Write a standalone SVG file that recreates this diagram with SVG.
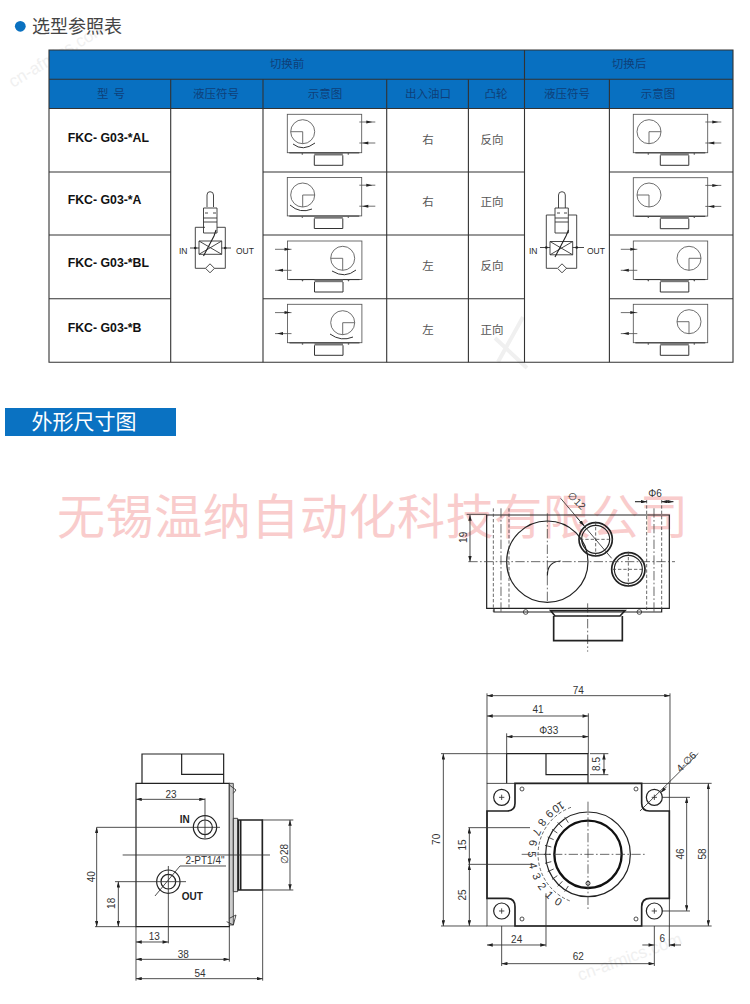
<svg xmlns="http://www.w3.org/2000/svg" xmlns:xlink="http://www.w3.org/1999/xlink" width="750" height="1004" viewBox="0 0 750 1004">
<style>
text{font-family:"Liberation Sans",Arial,sans-serif;fill:#2a2a2a}
.cjk{font-family:"Noto Sans CJK SC","Noto Sans",sans-serif}
.hd{font-size:11.5px;fill:#0f3f78;text-anchor:middle}
.cell{font-size:11.5px;fill:#555;text-anchor:middle}
.fk{font-size:12.3px;font-weight:bold;fill:#111}
.grid{stroke:#333;stroke-width:1.1;fill:none}
.t{fill:none;stroke:#555;stroke-width:.85}
.tb{fill:none;stroke:#333;stroke-width:1}
.v{fill:none;stroke:#333;stroke-width:.9}
.d{fill:none;stroke:#333;stroke-width:2.6}
.b{fill:none;stroke:#222;stroke-width:5}
.m{fill:none;stroke:#222;stroke-width:3.6}
.c{fill:none;stroke:#444;stroke-width:2.4;stroke-dasharray:28 7 5 7}
.h{fill:none;stroke:#444;stroke-width:2.4;stroke-dasharray:10 6}
.a{fill:none;stroke:#333;stroke-width:2.6;marker-start:url(#ar);marker-end:url(#ar)}
.n{font-size:30px;fill:#333;text-anchor:middle}
.dn{font-size:33px;fill:#333;text-anchor:middle}
.nb{font-size:30px;font-weight:bold;fill:#222;text-anchor:middle}
.wm{fill:#f0f0f0;font-size:17px}
</style>
<defs>
<marker id="ar" viewBox="0 0 10 6" refX="10" refY="3" markerWidth="7" markerHeight="4" orient="auto-start-reverse"><path d="M0 0L10 3L0 6z" fill="#222"/></marker>
<g id="base">
<rect class="t" x="0" y="0" width="74.4" height="38.4"/>
<path class="tb" d="M2 38.6H72"/>
<rect x="27" y="38.6" width="28.5" height="2.6" fill="#777"/>
<path class="tb" d="M27 41V51H55.5V41"/>
<circle cx="15" cy="39.6" r=".8" fill="#555"/><circle cx="61" cy="39.6" r=".8" fill="#555"/>
</g>
<g id="tr">
<use xlink:href="#base"/>
<path class="t" d="M72 7.7H88M72 28.7H88"/>
<path d="M79 6.2L85 7.7L79 9.2zM75 28.7L81 27.2V30.2z" fill="#222"/>
</g>
<g id="tl">
<use xlink:href="#base"/>
<path class="t" d="M-12.500 8.300H4M-12.500 29.300H4"/>
<path d="M-3 6.800L3 8.300L-3 9.800zM-10.500 29.300L-4.500 27.800V30.800z" fill="#222"/>
</g>
<g id="dl"><circle class="t" r="12"/><path class="t" d="M-12 0H0V12"/></g>
<g id="dr"><circle class="t" r="12"/><path class="t" d="M12 0H0V12"/></g>
</defs>

<g id="background-marks">
<text class="cjk" x="57" y="534" font-size="48" style="fill:#f9cccc" textLength="631" lengthAdjust="spacing">无锡温纳自动化科技有限公司</text>
<text class="wm" transform="translate(13 88) rotate(-31)">cn-afmics.com</text>
<text class="wm" transform="translate(580 981) rotate(-20)">cn-afmics.com</text>
<path d="M495 338L527 368M523 317L498 362" stroke="#f0f0f0" stroke-width="4" fill="none"/>
</g>

<g id="heading-1">
<circle cx="20.300" cy="26.300" r="5.400" fill="#0a71c0"/>
<text class="cjk" x="32" y="32.500" font-size="18" style="fill:#444">选型参照表</text>
</g>

<g id="table">
<rect x="49" y="50" width="684" height="58.500" fill="#0870c1"/>
<path class="grid" d="M49 50H733V362.300H49ZM49 79.300H733M49 108.500H733"/>
<path class="grid" d="M170.700 79.300V362.300M263 79.300V362.300M386.700 79.300V362.300M468.400 79.300V362.300M524.500 50V362.300M609.400 79.300V362.300"/>
<path class="grid" d="M49 172H170.700M263 172H524.500M609.400 172H733M49 235H170.700M263 235H524.500M609.400 235H733M49 298.800H170.700M263 298.800H524.500M609.400 298.800H733"/>
<text class="hd cjk" x="287" y="68">切换前</text><text class="hd cjk" x="629" y="68">切换后</text>
<text class="hd cjk" x="111" y="98" xml:space="preserve">型  号</text><text class="hd cjk" x="216" y="98">液压符号</text><text class="hd cjk" x="325" y="98">示意图</text><text class="hd cjk" x="428" y="98">出入油口</text><text class="hd cjk" x="496" y="98">凸轮</text><text class="hd cjk" x="567" y="98">液压符号</text><text class="hd cjk" x="658" y="98">示意图</text>
<text class="cell cjk" x="428" y="144">右</text><text class="cell cjk" x="492" y="144">反向</text>
<text class="cell cjk" x="428" y="206">右</text><text class="cell cjk" x="492" y="206">正向</text>
<text class="cell cjk" x="428" y="270">左</text><text class="cell cjk" x="492" y="270">反向</text>
<text class="cell cjk" x="428" y="334">左</text><text class="cell cjk" x="492" y="334">正向</text>
<text class="fk" x="67.700" y="141.500">FKC- G03-*AL</text>
<text class="fk" x="67.700" y="203.500">FKC- G03-*A</text>
<text class="fk" x="67.700" y="267.300">FKC- G03-*BL</text>
<text class="fk" x="67.700" y="331.500">FKC- G03-*B</text>
</g>

<g id="thumbs-before">
<g id="th-al"><use xlink:href="#tr" x="287.300" y="114.300"/><use xlink:href="#dl" x="302.700" y="131.700"/><path class="tb" d="M293 144Q303 152 315 143"/></g>
<g id="th-a"><use xlink:href="#tr" x="287.300" y="177.500"/><use xlink:href="#dr" x="302.700" y="195"/><path class="tb" d="M290 205Q300 214 312 209"/></g>
<g id="th-bl"><use xlink:href="#tl" x="287.500" y="241"/><use xlink:href="#dl" x="342.700" y="258.300"/><path class="tb" d="M332 271Q345 279 356 270"/></g>
<g id="th-b"><use xlink:href="#tl" x="287.500" y="304.300"/><use xlink:href="#dr" x="342.700" y="322.700"/><path class="tb" d="M330 334Q341 342 353 337"/></g>
</g>
<g id="thumbs-after">
<g id="th2-al"><use xlink:href="#tr" x="633.300" y="114.300"/><use xlink:href="#dr" x="649" y="131.700"/></g>
<g id="th2-a"><use xlink:href="#tr" x="633.300" y="177.700"/><use xlink:href="#dl" x="649" y="195"/></g>
<g id="th2-bl"><use xlink:href="#tl" x="633.300" y="241"/><use xlink:href="#dr" x="689" y="258.300"/></g>
<g id="th2-b"><use xlink:href="#tl" x="633.300" y="304.300"/><use xlink:href="#dl" x="689" y="321.700"/></g>
</g>

<g id="symbol-before">
<path class="v" d="M207 207V195Q207 191.700 210 191.700Q213.500 191.700 213.500 195V207"/>
<path class="v" d="M203.500 208H217V233H203.500ZM203.500 218H217M203.500 222H217M205 213H208M213 213H216"/>
<path class="v" d="M205 227.300H195.300V268.300H205.500M214.500 268.300H225.300V227.300H217"/>
<path class="v" d="M199 241H221.700V254.300H199ZM199 241L221.700 254.300M199 254.300L221.700 241"/>
<path d="M203.500 256L214 236L216 230" fill="none" stroke="#222" stroke-width="1.100"/>
<path class="v" d="M190 248H199M221.700 248H231"/><circle cx="195.300" cy="248" r="1.300" fill="#222"/><circle cx="225.300" cy="248" r="1.300" fill="#222"/>
<path d="M210 263.800L214.500 268.300L210 272.800L205.500 268.300Z" fill="#fff" stroke="#333" stroke-width=".9"/>
<text x="179" y="254" font-size="8.500">IN</text><text x="236" y="254" font-size="8.500">OUT</text>
</g>
<g id="symbol-after">
<path class="v" d="M558.500 208V195Q558.500 191.700 562 191.700Q565.300 191.700 565.300 195V208"/>
<path class="v" d="M555 208H568.300V233H555ZM555 218H568.300M555 222H568.300M557 213H560M564 213H567"/>
<path class="v" d="M555 215H546.300V268.300H557M566 268.300H576.700V215H568.300"/>
<path class="v" d="M550 241.500H572.700V254.800H550ZM550 241.500L572.700 254.800M550 254.800L572.700 241.500"/>
<path d="M555 257L566 236L568.500 230" fill="none" stroke="#222" stroke-width="1.100"/>
<path class="v" d="M540 247.500H550M572.700 247.500H584"/><circle cx="546.300" cy="247.500" r="1.300" fill="#222"/><circle cx="576.700" cy="247.500" r="1.300" fill="#222"/>
<path d="M562 263.800L566.500 268.300L562 272.800L557.500 268.300Z" fill="#fff" stroke="#333" stroke-width=".9"/>
<text x="529" y="254" font-size="8.500">IN</text><text x="587" y="254" font-size="8.500">OUT</text>
</g>

<g id="heading-2">
<rect x="5" y="408" width="171" height="28" fill="#0a72c2"/>
<text class="cjk" x="31.500" y="429" font-size="21" style="fill:#fff">外形尺寸图</text>
</g>

<g id="view-top" transform="translate(430 480) scale(.33333)">
<path class="m" d="M170 105H718V385H170ZM192 385V396H695V385"/>
<circle class="m" cx="352" cy="245" r="122"/>
<circle class="m" cx="497" cy="178" r="50" style="stroke-width:5"/><circle class="m" cx="497" cy="178" r="42"/>
<circle class="m" cx="595" cy="268" r="50" style="stroke-width:5"/><circle class="m" cx="595" cy="268" r="42"/>
<path class="h" d="M190 85V396M237 85V385M650 60V390M695 60V390"/>
<path class="c" d="M213 85V398M672 85V400M352 100V370M473 370V515M115 245H735"/>
<path class="h" d="M450 178H548M497 125V232M548 268H645M595 215V320"/>
<path class="m" d="M352 287Q352 245 392 243"/>
<circle class="d" cx="287" cy="396" r="7"/><circle class="d" cx="628" cy="396" r="7"/>
<path class="b" d="M362 392H585L570 408H375ZM371 408V482H577V408"/>
<path class="d" d="M392 55L545 235"/>
<path d="M440 112L463 138" class="d" marker-end="url(#ar)"/>
<text class="n" transform="translate(433 70) rotate(45)">∅12</text>
<text class="n" x="675" y="51">Φ6</text>
<path class="d" d="M615 65H650M695 65H730" marker-end="url(#ar)"/>
<path class="d" d="M615 65H650" marker-end="url(#ar)"/><path class="d" d="M730 65H695" marker-end="url(#ar)"/>
<path class="d" d="M110 103H170"/><path class="a" d="M120 105V245"/>
<text class="n" transform="translate(110 172) rotate(-90)">19</text>
</g>

<g id="view-front" transform="translate(420 680) scale(.33333)">
<path class="m" d="M260 310V221H504V310M378 221V284H504"/>
<rect class="d" x="201" y="310" width="547" height="428"/>
<path class="b" d="M201 393H262Q285 393 285 370V310H665V370Q665 393 688 393H748V655H690Q665 655 665 680V738H285V680Q285 655 260 655H201Z"/>
<circle class="m" cx="245" cy="352" r="24"/><circle class="m" cx="703" cy="352" r="24"/><circle class="m" cx="245" cy="693" r="24"/><circle class="m" cx="703" cy="693" r="24"/>
<circle class="d" cx="306" cy="327" r="6"/><circle class="d" cx="648" cy="327" r="6"/><circle class="d" cx="306" cy="717" r="6"/><circle class="d" cx="648" cy="717" r="6"/>
<path class="d" d="M237 352H253M245 344V360M695 352H711M703 344V360M237 693H253M245 685V701M695 693H711M703 685V701"/>
<circle class="m" cx="504" cy="523" r="127"/>
<circle cx="504" cy="523" r="101" fill="none" stroke="#111" stroke-width="7"/>
<circle cx="504" cy="610" r="6" fill="none" stroke="#222" stroke-width="3"/>
<path class="c" d="M504 365V690M305 523H680"/>
<path class="h" d="M453 382A150 150 0 0 0 453 664"/>
<path class="d" d="M445 618L434 635M427 604L413 619M412 587L396 598M401 567L383 575M394 545L375 550M392 523L372 523M394 501L375 496M401 479L383 471M412 459L396 448M427 442L413 427M445 428L434 411"/>
<text class="dn" transform="translate(415 665) rotate(32)" y="11">0</text>
<text class="dn" transform="translate(388 645) rotate(44)" y="11">1</text>
<text class="dn" transform="translate(366 619) rotate(55)" y="11">2</text>
<text class="dn" transform="translate(350 589) rotate(67)" y="11">3</text>
<text class="dn" transform="translate(339 557) rotate(78)" y="11">4</text>
<text class="dn" transform="translate(336 523) rotate(90)" y="11">5</text>
<text class="dn" transform="translate(339 489) rotate(102)" y="11">6</text>
<text class="dn" transform="translate(350 457) rotate(113)" y="11">7</text>
<text class="dn" transform="translate(366 427) rotate(125)" y="11">8</text>
<text class="dn" transform="translate(388 401) rotate(136)" y="11">9</text>
<text class="dn" transform="translate(415 381) rotate(148)" y="11">10</text>
<path class="d" d="M201 40V310M750 40V310M505 100V221M260 160V221M63 221H260M510 221H565M510 284H565M748 310H875M725 352H810M725 693H810M63 738H201M748 738H875M145 443H330M145 553H340M378 640V800M245 738V858M703 738V858M748 738V800M660 393L835 220"/>
<path class="a" d="M201 47H750"/><path class="a" d="M201 108H505"/><path class="a" d="M260 170H505"/>
<path class="a" d="M552 221V284"/><path class="a" d="M70 221V738"/><path class="a" d="M865 310V738"/><path class="a" d="M800 352V693"/>
<path class="a" d="M148 443V553"/><path class="a" d="M148 553V738"/><path class="a" d="M201 795H378"/><path class="a" d="M245 851H703"/>
<path class="d" d="M667 795H703" marker-end="url(#ar)"/><path class="d" d="M783 795H748" marker-end="url(#ar)"/>
<path d="M740 320L722 338" class="d" marker-end="url(#ar)"/>
<text class="n" x="475" y="43">74</text><text class="n" x="354" y="100">41</text><text class="n" x="386" y="163">Φ33</text>
<text class="n" transform="translate(541 252) rotate(-90)">8.5</text>
<text class="n" transform="translate(60 478) rotate(-90)">70</text>
<text class="n" transform="translate(858 522) rotate(-90)">58</text>
<text class="n" transform="translate(793 522) rotate(-90)">46</text>
<text class="n" transform="translate(138 495) rotate(-90)">15</text>
<text class="n" transform="translate(138 645) rotate(-90)">25</text>
<text class="n" x="290" y="789">24</text><text class="n" x="475" y="841">62</text><text class="n" x="727" y="785">6</text>
<text class="n" transform="translate(806 253) rotate(-45)">4-∅6</text>
</g>

<g id="view-side" transform="translate(70 740) scale(.33333)">
<path class="m" d="M216 130V42H461V130M335 42V103H461"/>
<path class="m" d="M198 130H478V560H198Z"/>
<path d="M478 130H490V555H478Z" fill="#ccc" stroke="#333" stroke-width="2.500"/>
<path d="M490 235H503V455H490Z" fill="#ddd" stroke="#222" stroke-width="2.500"/>
<path class="b" d="M505 240H577V450H505ZM512 240V450"/>
<path class="d" d="M478 135L498 150L490 160M478 535L498 525L490 555L470 545"/>
<circle class="m" cx="405" cy="262" r="35"/><circle class="m" cx="405" cy="262" r="22"/>
<circle class="m" cx="295" cy="425" r="35"/><circle class="m" cx="295" cy="425" r="22"/>
<path class="d" d="M158 345H600M405 175V295M80 262H450M295 378V610M135 425H348M255 468L330 378H468M198 560V722M478 560V665M578 450V722M75 560H198M575 240H670M575 450H670"/>
<text class="nb" x="344" y="249">IN</text><text class="nb" x="367" y="480">OUT</text>
<text class="n" x="405" y="373">2-PT1/4"</text>
<path class="a" d="M198 178H405"/><path class="a" d="M80 262V560"/><path class="a" d="M145 425V560"/>
<path class="a" d="M198 606H295"/><path class="a" d="M198 658H478"/><path class="a" d="M198 716H578"/><path class="a" d="M660 240V450"/>
<text class="n" x="303" y="173">23</text>
<text class="n" transform="translate(75 410) rotate(-90)">40</text>
<text class="n" transform="translate(135 490) rotate(-90)">18</text>
<text class="n" x="253" y="600">13</text><text class="n" x="340" y="653">38</text><text class="n" x="390" y="711">54</text>
<text class="n" transform="translate(655 342) rotate(-90)">∅28</text>
</g>
</svg>
